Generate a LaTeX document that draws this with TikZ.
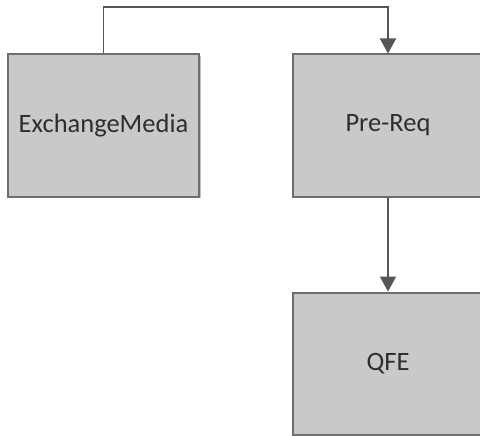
\documentclass[tikz,border=0pt]{standalone}
\usepackage{fontspec}
\setmainfont{Carlito}
\usetikzlibrary{arrows.meta,shadows}
\definecolor{boxfill}{HTML}{C9C9C9}
\definecolor{boxline}{HTML}{6E6E6E}
\definecolor{conn}{HTML}{555555}
\definecolor{txt}{HTML}{2E2E2E}
\tikzset{
  stepbox/.style={draw=boxline, line width=2pt, fill=boxfill, rectangle,
    minimum width=191pt, minimum height=142pt, inner sep=0pt,
    font=\fontsize{26.5}{30}\selectfont, text=txt,
    drop shadow={shadow xshift=1.5pt, shadow yshift=-1.5pt, opacity=0.25, fill=black}},
  conn/.style={draw=conn, line width=1.6pt, -{Triangle[length=15pt,width=16pt]}}
}
\begin{document}
\begin{tikzpicture}[x=1pt,y=-1pt]
\useasboundingbox (0,0) rectangle (480,436);
\node[stepbox] (em) at (103.5,125.5) {ExchangeMedia};
\node[stepbox] (pr) at (388,125.5) {Pre-Req};
\node[stepbox] (qfe) at (388,363.5) {QFE};
\coordinate (top) at (0,7);
\draw[conn] (em.north) -- (em.north |- top) -| (pr.north);
\draw[conn] (pr.south) -- (qfe.north);
\end{tikzpicture}
\end{document}
